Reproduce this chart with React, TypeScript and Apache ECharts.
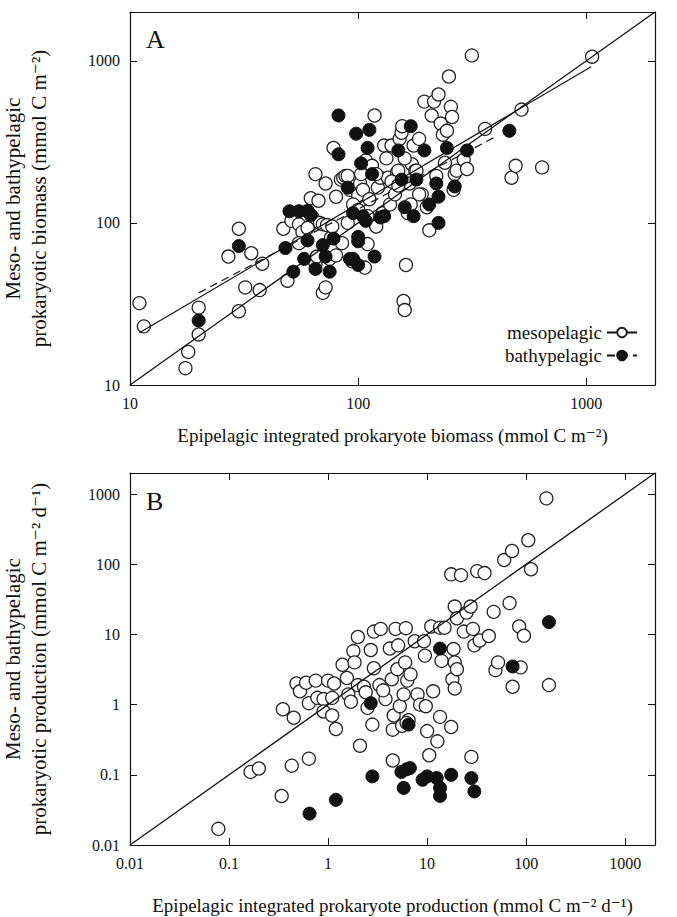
import { useEffect, useRef } from 'react';
import * as echarts from 'echarts';

// panel A: biomass (epipelagic x, meso/bathy y)
const mesoBiomass: [number, number][] = [
  [11, 32], [11.5, 23], [20, 30], [20, 20.5], [18, 16], [17.5, 12.7], [30, 92], [27, 62], [34, 65], [32, 40],
  [30, 28.5], [37, 38.5], [38, 56], [47, 92], [49, 44], [51, 103], [55, 98], [57, 88], [60, 118], [62, 142],
  [63, 108], [65, 200], [67, 137], [68, 100], [70, 98], [72, 175], [73, 97], [75, 60], [76, 81], [70, 37],
  [72, 40], [78, 290], [80, 145], [80, 63], [84, 185], [86, 190], [88, 195], [90, 195], [92, 160], [94, 58],
  [96, 120], [100, 148], [102, 175], [103, 200], [105, 160], [107, 53], [108, 243], [110, 74], [112, 140], [115, 225],
  [118, 460], [120, 95], [122, 165], [125, 190], [128, 115], [130, 300], [133, 250], [135, 190], [138, 130], [140, 300],
  [145, 150], [148, 205], [150, 210], [152, 330], [155, 360], [156, 395], [158, 33], [160, 29], [162, 55], [165, 115],
  [168, 175], [172, 230], [175, 300], [178, 210], [180, 210], [185, 330], [190, 150], [195, 560], [200, 125], [205, 90],
  [210, 460], [215, 560], [220, 195], [225, 620], [230, 410], [235, 350], [240, 235], [245, 370], [250, 800], [255, 520],
  [258, 450], [262, 160], [265, 200], [270, 210], [290, 245], [300, 215], [315, 1080], [360, 380], [470, 190], [490, 225],
  [520, 500], [640, 220], [1060, 1060], [60, 93], [55, 75], [65, 56], [66, 62], [85, 75], [77, 95], [90, 100],
  [95, 130], [140, 180], [160, 250], [185, 150], [100, 120], [110, 110], [150, 170], [170, 130], [120, 200],
];
const bathyBiomass: [number, number][] = [
  [20, 25], [30, 72], [48, 70], [50, 118], [55, 118], [60, 118], [62, 112], [52, 50], [58, 60], [65, 52],
  [70, 73], [72, 62], [75, 50], [78, 80], [82, 460], [82, 265], [90, 165], [92, 60], [95, 115], [98, 355],
  [100, 55], [100, 82], [100, 77], [103, 233], [105, 110], [108, 103], [110, 290], [112, 375], [115, 200], [118, 62],
  [125, 108], [150, 280], [155, 185], [160, 125], [170, 395], [175, 110], [180, 185], [195, 280], [205, 130], [220, 175],
  [225, 145], [225, 100], [245, 290], [265, 168], [300, 280], [460, 370], [95, 60], [130, 110], [60, 78],
];
const oneToOneA: [number, number][] = [[10, 10], [2000, 2000]];
const mesoFitA: [number, number][] = [[11, 21], [1050, 920]];
const bathyFitA: [number, number][] = [[20, 37], [400, 340]];

// panel B: production
const mesoProd: [number, number][] = [
  [0.078, 0.017], [0.165, 0.11], [0.2, 0.123], [0.34, 0.05], [0.43, 0.135], [0.64, 0.17], [0.35, 0.86], [0.45, 0.65],
  [0.48, 2.0], [0.52, 1.55], [0.6, 2.05], [0.64, 1.05], [0.75, 2.2], [0.78, 1.25], [0.9, 1.2], [0.9, 0.8],
  [1, 2.2], [1.1, 1.25], [1.1, 0.7], [1.2, 0.45], [1.15, 2.0], [1.4, 3.7], [1.55, 2.4], [1.6, 1.4], [1.8, 5.8],
  [1.85, 4], [2, 9.2], [2, 1.9], [2.1, 0.26], [2.3, 1.8], [2.5, 0.9], [2.7, 6], [2.8, 0.52], [2.9, 11], [2.9, 3.3],
  [3.3, 1.9], [3.4, 12], [3.8, 1.2], [4.2, 6.3], [4.4, 2.3], [4.5, 0.16], [4.5, 0.44], [4.6, 0.7], [4.8, 12],
  [5, 3.2], [5.1, 7], [5.3, 0.95], [5.8, 1.4], [6, 4], [6.1, 12.3], [6.3, 2.2], [6.5, 0.6], [6.8, 2.7], [7.5, 8],
  [8, 1.4], [8.5, 1.0], [9.3, 8], [9.5, 5], [9.7, 0.95], [10, 0.42], [10.5, 0.19], [11, 13], [11.5, 1.55],
  [12.7, 0.3], [13.5, 12.5], [13.5, 0.67], [14, 4.2], [15, 12.5], [17.5, 72], [17.5, 0.48], [18, 2.3], [18.5, 6.2],
  [19, 25], [20, 17], [19, 4], [19, 1.7], [20, 3.2], [22, 70], [23.5, 11], [25, 20.5], [27.5, 25], [29, 12],
  [28, 0.18], [30, 7], [32, 80], [34, 8.2], [38, 75], [42, 9.5], [47, 21], [49, 3.1], [52, 4], [60, 115],
  [68, 28], [72, 155], [73, 1.8], [85, 13], [88, 3.4], [95, 9.6], [105, 220], [112, 85], [160, 870], [170, 1.9],
  [5.6, 0.5], [6.2, 0.55], [2.4, 1.5], [1.7, 1.1], [3.6, 1.6],
];
const bathyProd: [number, number][] = [
  [0.65, 0.028], [1.2, 0.044], [2.7, 1.05], [2.8, 0.095], [5.5, 0.11], [5.8, 0.065], [6.2, 0.12], [6.7, 0.125],
  [6.5, 0.52], [9, 0.085], [10, 0.095], [12.5, 0.09], [13.5, 0.065], [13.5, 0.05], [13.5, 6.3], [17.5, 0.1],
  [28, 0.09], [30, 0.058], [73, 3.5], [170, 15],
];
const oneToOneB: [number, number][] = [[0.01, 0.01], [2000, 2000]];

const FONT = '"Liberation Serif", "DejaVu Serif", serif';

const decadeLabel = (v: number) => {
  const l = Math.log10(v);
  return Math.abs(l - Math.round(l)) < 1e-6 ? String(+v.toPrecision(3)) : '';
};

function axisBase(min: number, max: number, show: boolean, extra: any = {}) {
  return {
    type: 'log',
    logBase: 10,
    min,
    max,
    axisLine: { show: true, onZero: false, lineStyle: { color: '#111', width: 1.2 } },
    axisTick: { show: true, inside: true, length: 7, lineStyle: { color: '#111' } },
    axisLabel: { show, color: '#111', fontFamily: FONT, fontSize: 16, margin: 10, formatter: decadeLabel, showMaxLabel: false },
    splitLine: { show: false },
    nameTextStyle: { color: '#111', fontFamily: FONT, fontSize: 19, lineHeight: 25 },
    ...extra,
  };
}

const yName = { color: '#111', fontFamily: FONT, fontSize: 21, lineHeight: 26 };

const openStyle = { color: '#fff', borderColor: '#222', borderWidth: 1.3, opacity: 1 };
const fillStyle = { color: '#111', borderColor: '#111', borderWidth: 1, opacity: 1 };

export default function App() {
  const ref = useRef<HTMLDivElement>(null);
  useEffect(() => {
    const chart = echarts.init(ref.current as HTMLDivElement, null, { renderer: 'svg' });
    const option: any = {
      animation: false,
      backgroundColor: '#fff',
      textStyle: { fontFamily: FONT },
      grid: [
        { left: 130, right: 22, top: 12, height: 373, outerBoundsMode: 'none' },
        { left: 130, right: 22, top: 473, height: 372, outerBoundsMode: 'none' },
      ],
      xAxis: [
        axisBase(10, 2000, true, {
          gridIndex: 0, name: 'Epipelagic integrated prokaryote biomass (mmol C m⁻²)',
          nameLocation: 'middle', nameGap: 38,
        }),
        axisBase(10, 2000, false, { gridIndex: 0, position: 'top' }),
        axisBase(0.01, 2000, true, {
          gridIndex: 1, name: 'Epipelagic integrated prokaryote production (mmol C m⁻² d⁻¹)',
          nameLocation: 'middle', nameGap: 48,
        }),
        axisBase(0.01, 2000, false, { gridIndex: 1, position: 'top' }),
      ],
      yAxis: [
        axisBase(10, 2000, true, {
          gridIndex: 0, name: 'Meso- and bathypelagic\nprokaryotic biomass (mmol C m⁻²)',
          nameLocation: 'middle', nameGap: 78, nameTextStyle: yName,
        }),
        axisBase(10, 2000, false, { gridIndex: 0, position: 'right' }),
        axisBase(0.01, 2000, true, {
          gridIndex: 1, name: 'Meso- and bathypelagic\nprokaryotic production (mmol C m⁻² d⁻¹)',
          nameLocation: 'middle', nameGap: 78, nameTextStyle: yName,
        }),
        axisBase(0.01, 2000, false, { gridIndex: 1, position: 'right' }),
      ],
      legend: {
        orient: 'vertical',
        right: 34,
        top: 318,
        align: 'right',
        itemWidth: 30,
        itemHeight: 12,
        itemGap: 4,
        data: ['mesopelagic', 'bathypelagic'],
        textStyle: { fontFamily: FONT, fontSize: 19, color: '#111' },
      },
      series: [
        { type: 'line', xAxisIndex: 0, yAxisIndex: 0, data: oneToOneA, symbol: 'none', lineStyle: { color: '#111', width: 1.3 } },
        {
          name: 'mesopelagic', type: 'line', xAxisIndex: 0, yAxisIndex: 0, data: mesoFitA,
          symbol: 'circle', symbolSize: 10, showSymbol: false, itemStyle: openStyle,
          lineStyle: { color: '#111', width: 1.2 },
        },
        {
          name: 'bathypelagic', type: 'line', xAxisIndex: 0, yAxisIndex: 0, data: bathyFitA,
          symbol: 'circle', symbolSize: 10, showSymbol: false, itemStyle: fillStyle,
          lineStyle: { color: '#111', width: 1.2, type: [8, 5] },
        },
        { type: 'scatter', xAxisIndex: 0, yAxisIndex: 0, data: mesoBiomass, symbolSize: 13, itemStyle: openStyle },
        { type: 'scatter', xAxisIndex: 0, yAxisIndex: 0, data: bathyBiomass, symbolSize: 13, itemStyle: fillStyle },
        { type: 'line', xAxisIndex: 2, yAxisIndex: 2, data: oneToOneB, symbol: 'none', lineStyle: { color: '#111', width: 1.3 } },
        { type: 'scatter', xAxisIndex: 2, yAxisIndex: 2, data: mesoProd, symbolSize: 13, itemStyle: openStyle },
        { type: 'scatter', xAxisIndex: 2, yAxisIndex: 2, data: bathyProd, symbolSize: 13, itemStyle: fillStyle },
      ],
      graphic: [
        { type: 'text', left: 146, top: 26, style: { text: 'A', fontFamily: FONT, fontSize: 26, fill: '#111' } },
        { type: 'text', left: 146, top: 488, style: { text: 'B', fontFamily: FONT, fontSize: 26, fill: '#111' } },
      ],
    };
    chart.setOption(option);
    return () => chart.dispose();
  }, []);
  return <div ref={ref} style={{ position: 'fixed', left: 0, top: 0, width: 677, height: 917, background: '#fff' }} />;
}
